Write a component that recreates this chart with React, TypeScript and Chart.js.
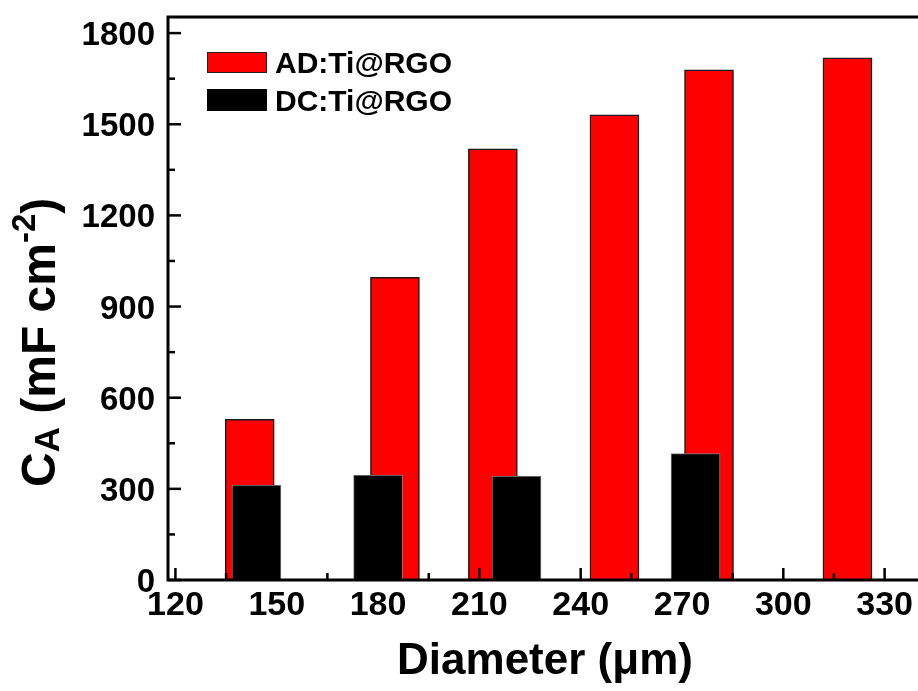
import React, { useEffect, useRef } from "react";
import { Chart, registerables } from "chart.js";

Chart.register(...registerables);

// ---- data ----
const adDiameters = [142, 185, 214, 250, 278, 319];
const adValues = [529, 996, 1419, 1531, 1679, 1719];
const dcDiameters = [144, 180, 221, 274];
const dcValues = [312, 345, 342, 416];
const seriesNames = ["AD:Ti@RGO", "DC:Ti@RGO"];
const xMajorTicks = [120, 150, 180, 210, 240, 270, 300, 330];
const xMinorTicks = [135, 165, 195, 225, 255, 285, 315, 345];
const yMajorTicks = [0, 300, 600, 900, 1200, 1500, 1800];
const yMinorTicks = [150, 450, 750, 1050, 1350, 1650];
const xTitle = "Diameter (\u03bcm)";

const FONT = "'Liberation Sans', Arial, sans-serif";
const RED = "#ff0000";
const BLACK = "#000000";

const framePlugin = {
  id: "frameAndText",
  afterDatasetsDraw(chart: any) {
    const ctx = chart.ctx as CanvasRenderingContext2D;
    const { left, right, top, bottom } = chart.chartArea;
    const xs = chart.scales.x;
    const ys = chart.scales.y;
    ctx.save();
    ctx.strokeStyle = "#000";
    ctx.fillStyle = "#000";

    // ticks (inward)
    ctx.lineWidth = 2.5;
    ctx.lineCap = "butt";
    const tickX = (vals: number[], len: number) => {
      vals.forEach((v) => {
        const px = xs.getPixelForValue(v);
        if (px < left || px > right) return;
        ctx.beginPath();
        ctx.moveTo(px, bottom);
        ctx.lineTo(px, bottom - len);
        ctx.stroke();
      });
    };
    const tickY = (vals: number[], len: number) => {
      vals.forEach((v) => {
        const py = ys.getPixelForValue(v);
        ctx.beginPath();
        ctx.moveTo(left, py);
        ctx.lineTo(left + len, py);
        ctx.stroke();
      });
    };
    tickX(xMajorTicks, 12);
    tickX(xMinorTicks, 7);
    tickY(yMajorTicks, 13);
    tickY(yMinorTicks, 7);

    // frame
    ctx.lineWidth = 3;
    ctx.lineCap = "square";
    ctx.beginPath();
    ctx.moveTo(right, top);
    ctx.lineTo(left, top);
    ctx.lineTo(left, bottom);
    ctx.lineTo(right, bottom);
    ctx.lineTo(right, top);
    ctx.stroke();

    // tick labels
    ctx.font = `bold 34px ${FONT}`;
    ctx.textAlign = "center";
    ctx.textBaseline = "alphabetic";
    xMajorTicks.forEach((v) => {
      ctx.fillText(String(v), xs.getPixelForValue(v), bottom + 35);
    });
    ctx.font = `bold 33px ${FONT}`;
    ctx.textAlign = "right";
    yMajorTicks.forEach((v) => {
      ctx.fillText(String(v), left - 13, ys.getPixelForValue(v) + 12);
    });

    // x title
    ctx.font = `bold 44px ${FONT}`;
    ctx.textAlign = "center";
    ctx.fillText(xTitle, 545, 674);

    // y title (rotated, with sub/superscript)
    const segs = [
      { t: "C", size: 48, dy: 0 },
      { t: "A", size: 35, dy: 4 },
      { t: " (mF cm", size: 48, dy: 0 },
      { t: "-2", size: 33, dy: -20 },
      { t: ")", size: 48, dy: 0 },
    ];
    ctx.save();
    ctx.translate(55, 487);
    ctx.rotate(-Math.PI / 2);
    ctx.textAlign = "left";
    let u = 0;
    segs.forEach((s) => {
      ctx.font = `bold ${s.size}px ${FONT}`;
      ctx.fillText(s.t, u, s.dy);
      u += ctx.measureText(s.t).width;
    });
    ctx.restore();

    // legend
    const legend = [
      { name: seriesNames[0], color: RED, border: "#222", y: 52, h: 21, base: 73 },
      { name: seriesNames[1], color: BLACK, border: "#000", y: 89, h: 22, base: 111 },
    ];
    ctx.font = `bold 30px ${FONT}`;
    ctx.textAlign = "left";
    legend.forEach((l) => {
      ctx.fillStyle = l.color;
      ctx.fillRect(207, l.y, 60, l.h);
      ctx.lineWidth = 1;
      ctx.strokeStyle = l.border;
      ctx.strokeRect(207.5, l.y + 0.5, 59, l.h - 1);
      ctx.fillStyle = "#000";
      ctx.fillText(l.name, 275, l.base);
    });

    ctx.restore();
  },
};

export default function App() {
  const ref = useRef<HTMLCanvasElement | null>(null);
  useEffect(() => {
    if (!ref.current) return;
    const chart = new Chart(ref.current, {
      type: "bar",
      data: {
        datasets: [
          {
            label: seriesNames[0],
            data: adDiameters.map((x, i) => ({ x, y: adValues[i] })),
            backgroundColor: RED,
            borderColor: "#1a1a1a",
            borderWidth: 1.5,
            barThickness: 49,
            grouped: false,
            order: 2,
          } as any,
          {
            label: seriesNames[1],
            data: dcDiameters.map((x, i) => ({ x, y: dcValues[i] })),
            backgroundColor: BLACK,
            borderColor: "#808080",
            borderWidth: 1,
            barThickness: 49,
            grouped: false,
            order: 1,
          } as any,
        ],
      },
      options: {
        responsive: false,
        animation: false,
        devicePixelRatio: 1,
        layout: { padding: { left: 168, top: 17, right: 0, bottom: 111 } },
        plugins: { legend: { display: false }, tooltip: { enabled: false } },
        scales: {
          x: { type: "linear", min: 117.8, max: 346.4, offset: false, display: false },
          y: { type: "linear", min: 0, max: 1853, display: false },
        },
      },
      plugins: [framePlugin],
    });
    return () => chart.destroy();
  }, []);
  return (
    <div
      style={{
        position: "fixed",
        left: 0,
        top: 0,
        width: 918,
        height: 691,
        overflow: "hidden",
        background: "#fff",
      }}
    >
      <canvas ref={ref} width={940} height={691} style={{ width: 940, height: 691 }} />
    </div>
  );
}
